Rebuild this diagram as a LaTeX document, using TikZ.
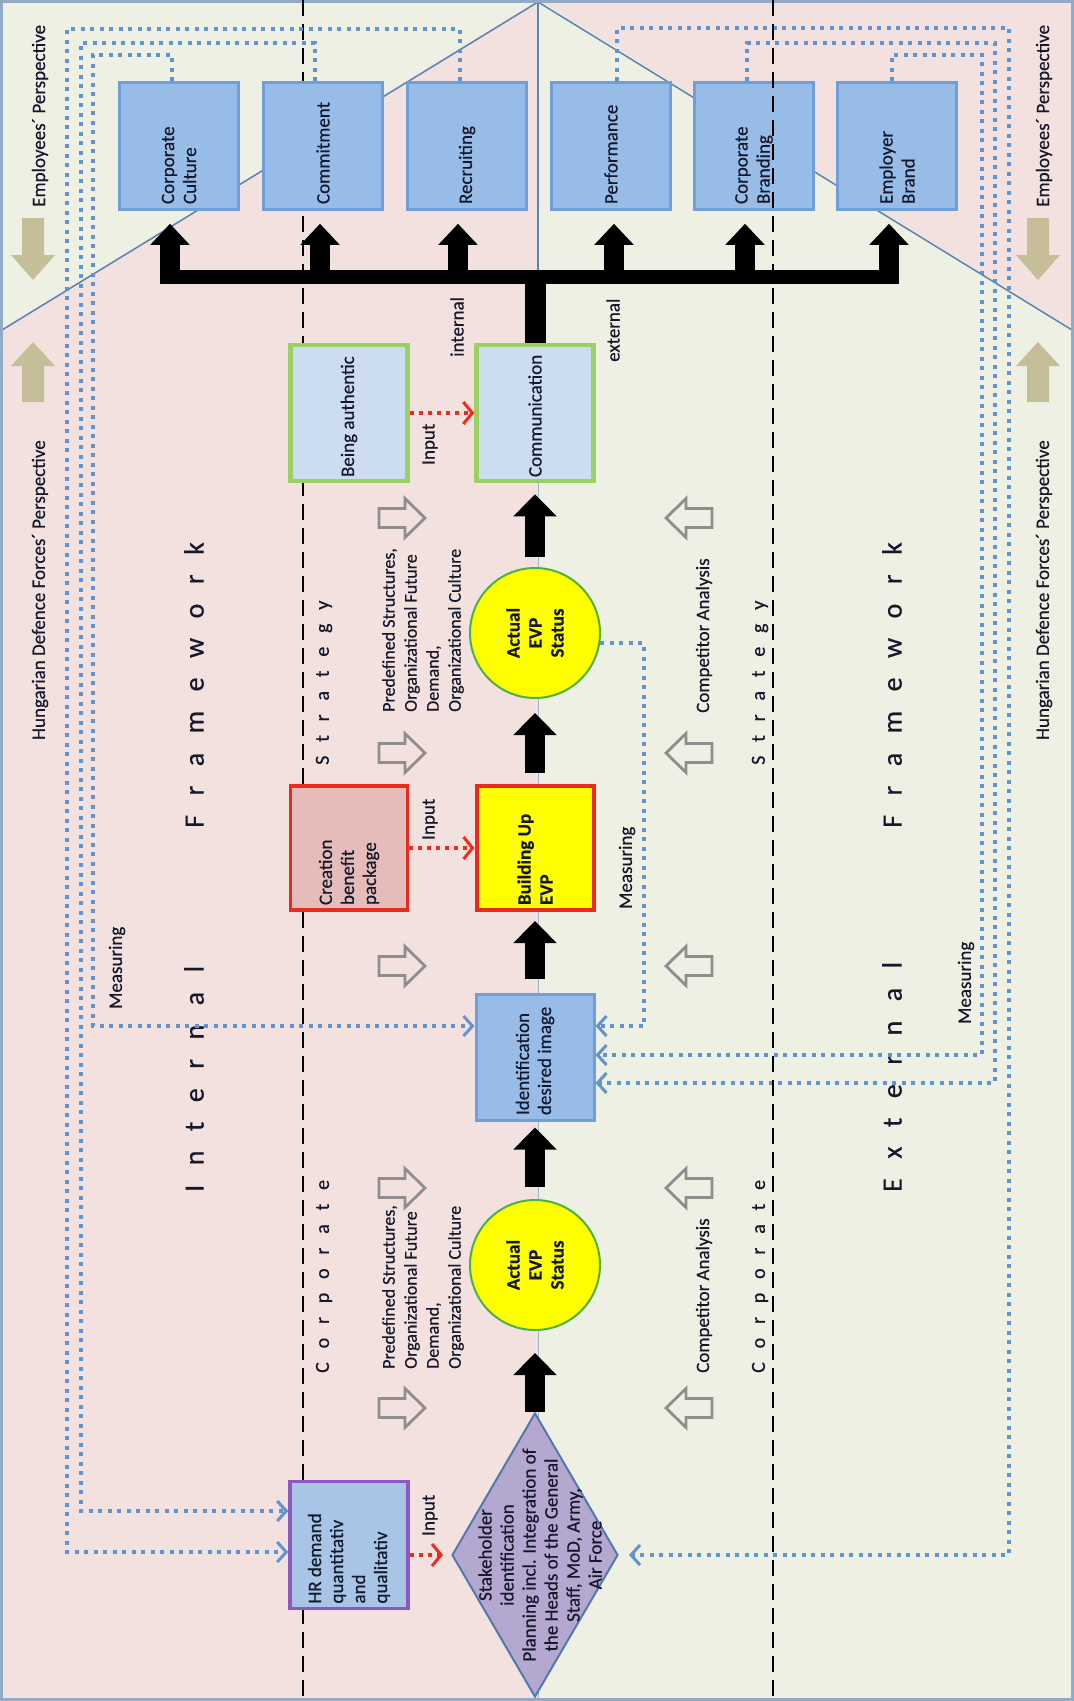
\documentclass[tikz,border=0pt]{standalone}
\usepackage{fontspec}
\setmainfont{Carlito}[FakeBold=0.45]
\usetikzlibrary{arrows.meta,shapes.geometric}
\definecolor{pinkbg}{HTML}{F2E1DF}
\definecolor{greenbg}{HTML}{EEF0E3}
\definecolor{framec}{HTML}{93AAC6}
\definecolor{diagc}{HTML}{5B83B1}
\definecolor{boxblue}{HTML}{98BCE8}
\definecolor{boxblueb}{HTML}{6E9FD9}
\definecolor{lightblue}{HTML}{CCDCF1}
\definecolor{greenb}{HTML}{9BD065}
\definecolor{redb}{HTML}{EC2A1C}
\definecolor{yel}{HTML}{FFFF00}
\definecolor{pinkbox}{HTML}{E6BCBA}
\definecolor{hrblue}{HTML}{A8C5E8}
\definecolor{purpleb}{HTML}{8A58BF}
\definecolor{dialav}{HTML}{B4A8D1}
\definecolor{diab}{HTML}{5279AB}
\definecolor{circb}{HTML}{4DB044}
\definecolor{dotblue}{HTML}{6193CF}
\definecolor{dotred}{HTML}{EE2B1E}
\definecolor{grayarr}{HTML}{8E8E8E}
\definecolor{tanc}{HTML}{C5BE98}
\definecolor{txt}{HTML}{15182B}
\newcommand{\vtl}[2]{\rotatebox{90}{\begin{minipage}{#1}\raggedright #2\end{minipage}}}
\newcommand{\vtc}[2]{\rotatebox{90}{\begin{minipage}{#1}\centering #2\end{minipage}}}
\newlength{\lsgap}
\def\LSb#1{\ifx#1\relax\else#1\hspace{\lsgap}\expandafter\LSb\fi}
\newcommand{\spaced}[2]{\setlength{\lsgap}{#1}\LSb#2\relax}
\begin{document}
\begin{tikzpicture}[x=1pt,y=-1pt,
  every node/.style={font=\fontsize{19}{22}\selectfont, text=txt},
  topbox/.style={draw=boxblueb, fill=boxblue, line width=2.5pt, minimum width=119pt, minimum height=127pt, inner sep=0pt},
  gbox/.style={draw=greenb, fill=lightblue, line width=4.5pt, minimum width=117pt, minimum height=136pt, inner sep=0pt},
  ybox/.style={draw=redb, fill=yel, line width=4pt, minimum width=117pt, minimum height=124pt, inner sep=0pt},
  cbbox/.style={draw=redb, fill=pinkbox, line width=3.5pt, minimum width=117pt, minimum height=124pt, inner sep=0pt},
  idbox/.style={draw=boxblueb, fill=boxblue, line width=3pt, minimum width=118pt, minimum height=126pt, inner sep=0pt},
  hrbox/.style={draw=purpleb, fill=hrblue, line width=3.5pt, minimum width=118pt, minimum height=127pt, inner sep=0pt},
  evp/.style={circle, draw=circb, fill=yel, line width=2pt, minimum size=130pt, inner sep=0pt},
  dia/.style={diamond, draw=diab, fill=dialav, line width=2pt, minimum width=166pt, minimum height=284pt, inner sep=0pt},
  lab/.style={rotate=90, anchor=west, inner sep=0pt},
  dashline/.style={black, line width=1.8pt, dash pattern=on 16pt off 8pt},
  bdot/.style={dotblue, line width=4pt, dash pattern=on 4pt off 5.5pt, -{Straight Barb[length=9pt,width=20pt,line width=3pt]}},
  rdot/.style={dotred, line width=4pt, dash pattern=on 4pt off 5pt, -{Straight Barb[length=9pt,width=22pt,line width=3pt]}},
  fat/.style={black, line width=20pt, -{Triangle[length=22pt,width=42pt]}},
  fatup/.style={black, line width=20pt, -{Triangle[length=21pt,width=38pt]}},
  garr/.style={draw=grayarr, line width=2.8pt, line join=miter},
  tanarrow/.style={fill=tanc},
  hollowarrow/.pic={\draw[garr] (-23,-9.5) -- (3,-9.5) -- (3,-19.5) -- (23,0) -- (3,19.5) -- (3,9.5) -- (-23,9.5) -- cycle;}
]
\useasboundingbox (0,0) rectangle (1074,1701);
% background
\fill[pinkbg] (0,0) rectangle (538,1701);
\fill[greenbg] (538,0) rectangle (1074,1701);
\fill[greenbg] (0,0) -- (538,0) -- (0,330) -- cycle;
\fill[pinkbg] (538,0) -- (1074,0) -- (1074,330) -- cycle;
\draw[diagc, line width=1.5pt] (2,330) -- (538,2) -- (1072,330);
\draw[diagc, line width=1.3pt] (538,0) -- (538,330);
\draw[diagc!60, line width=1pt] (538,330) -- (538,1701);
\draw[framec, line width=3pt] (1.5,1.5) rectangle (1072.5,1699.5);
% left dashed line
\draw[dashline] (303,0) -- (303,1701);
% tan arrows
\fill[tanarrow] (22,218) -- (44,218) -- (44,255) -- (55,255) -- (33,280) -- (11,255) -- (22,255) -- cycle;
\fill[tanarrow] (22,402) -- (44,402) -- (44,366) -- (55,366) -- (33,342) -- (11,366) -- (22,366) -- cycle;
\fill[tanarrow] (1027,218) -- (1049,218) -- (1049,255) -- (1060,255) -- (1038,280) -- (1016,255) -- (1027,255) -- cycle;
\fill[tanarrow] (1027,402) -- (1049,402) -- (1049,366) -- (1060,366) -- (1038,342) -- (1016,366) -- (1027,366) -- cycle;
% perspective labels
\node[lab] (ep1) at (40,207) {Employees´ Perspective};
\node[lab] (ep2) at (1044,207) {Employees´ Perspective};
\node[lab] (hd1) at (40,740) {Hungarian Defence Forces´ Perspective};
\node[lab] (hd2) at (1044,740) {Hungarian Defence Forces´ Perspective};
% top boxes
\node[topbox] (cc) at (179,146) {\vtl{116pt}{Corporate\\Culture}};
\node[topbox] (cm) at (323,146) {\vtl{116pt}{Commitment}};
\node[topbox] (rc) at (467,146) {\vtl{116pt}{Recruiting}};
\node[topbox] (pf) at (611,146) {\vtl{116pt}{Performance}};
\node[topbox] (cbr) at (754,146) {\vtl{116pt}{Corporate\\Branding}};
\node[topbox] (eb) at (897,146) {\vtl{116pt}{Employer\\Brand}};
% central column
\node[gbox] (comm) at (535,413) {\vtl{128pt}{Communication}};
\node[gbox] (ba) at (349,413) {\vtl{128pt}{Being authentic}};
\node[evp] (c2) at (535,633) {\vtc{60pt}{\bfseries Actual\\EVP\\Status}};
\node[ybox] (bu) at (535,848) {\vtl{114pt}{\bfseries Building Up\\EVP}};
\node[cbbox] (cb) at (349,848) {\vtl{114pt}{Creation\\benefit\\package}};
\node[idbox] (id) at (535,1057) {\vtl{116pt}{Identification\\desired image}};
\node[evp] (c1) at (535,1265) {\vtc{60pt}{\bfseries Actual\\EVP\\Status}};
\node[hrbox] (hr) at (349,1545) {\vtl{117pt}{HR demand\\quantitativ\\and\\qualitativ}};
\node[dia] (dia) at (535,1555) {};
\node[inner sep=0pt] (diat) at ([xshift=5pt]dia.center) {\vtc{240pt}{Stakeholder\\identification\\Planning incl. Integration of\\the Heads of the General\\Staff, MoD, Army,\\Air Force}};
% hollow grey arrows
\foreach \yy in {518,753,966,1188,1408} {
  \pic at (402,\yy) {hollowarrow};
  \pic[xscale=-1] at (689,\yy) {hollowarrow};
}
% text labels
\node[lab, align=left, font=\fontsize{18}{22}\selectfont] (pd1) at (423,712) {Predefined Structures,\\Organizational Future\\Demand,\\Organizational Culture};
\node[lab, align=left, font=\fontsize{18}{22}\selectfont] (pd2) at (423,1369) {Predefined Structures,\\Organizational Future\\Demand,\\Organizational Culture};
\node[lab] (ca1) at (704,713) {Competitor Analysis};
\node[lab] (ca2) at (704,1373) {Competitor Analysis};
\node[lab] (m1) at (117,1009) {Measuring};
\node[lab] (m2) at (627,909) {Measuring};
\node[lab] (m3) at (966,1024) {Measuring};
\node[lab] (in1) at (430,465) {Input};
\node[lab] (in2) at (430,840) {Input};
\node[lab] (in3) at (430,1536) {Input};
\node[lab] (intl) at (457,357) {internal};
\node[lab] (extl) at (613,362) {external};
% spaced titles
\node[lab, font=\fontsize{28}{30}\selectfont] (t1) at (194,1192) {\spaced{19.5pt}{Internal}};
\node[lab, font=\fontsize{28}{30}\selectfont] (t2) at (194,828) {\spaced{19.5pt}{Framework}};
\node[lab, font=\fontsize{28}{30}\selectfont] (t3) at (892,1192) {\spaced{19.5pt}{External}};
\node[lab, font=\fontsize{28}{30}\selectfont] (t4) at (892,828) {\spaced{19.5pt}{Framework}};
\node[lab, font=\fontsize{20}{22}\selectfont] (s1) at (324,1373) {\spaced{13.8pt}{Corporate}};
\node[lab, font=\fontsize{20}{22}\selectfont] (s2) at (324,765) {\spaced{13.8pt}{Strategy}};
\node[lab, font=\fontsize{20}{22}\selectfont] (s3) at (760,1373) {\spaced{13.8pt}{Corporate}};
\node[lab, font=\fontsize{20}{22}\selectfont] (s4) at (760,765) {\spaced{13.8pt}{Strategy}};
% blue dotted feedback lines
\draw[bdot] (172,0 |- cc.north) -- (172,55) -- (93,55) |- (id.west |- 0,1026);
\draw[bdot] (315,0 |- cm.north) -- (315,43) -- (81,43) |- (hr.west |- 0,1511);
\draw[bdot] (460,0 |- rc.north) -- (460,29) -- (67,29) |- (hr.west |- 0,1552);
\draw[bdot] (617,0 |- pf.north) -- (617,28) -- (1009,28) |- ([xshift=10pt]dia.east);
\draw[bdot] (747,0 |- cbr.north) -- (747,43) -- (995,43) |- (id.east |- 0,1083);
\draw[bdot] (892,0 |- eb.north) -- (892,55) -- (982,55) |- (id.east |- 0,1055);
\draw[bdot] (c2.-9) -- (644,0 |- c2.-9) |- (id.east |- 0,1026);
% red dotted input arrows
\draw[rdot] (ba.east) -- (comm.west);
\draw[rdot] (cb.east) -- (bu.west);
\draw[rdot] (hr.east |- dia.west) -- ([xshift=-8pt]dia.west);
% black flow arrows
\draw[fat, shorten >=22pt] (dia.north) -- (c1.south);
\draw[fat, shorten <=12pt, shorten >=6pt] (c1.north) -- (id.south);
\draw[fat, shorten <=14pt, shorten >=9pt] (id.north) -- (bu.south);
\draw[fat, shorten <=11pt, shorten >=14pt] (bu.north) -- (c2.south);
\draw[fat, shorten <=10pt, shorten >=11pt] (c2.north) -- (comm.south);
% fork
\coordinate (fk) at (535,270);
\coordinate (bl) at (160,277);
\coordinate (br) at (899,277);
\draw[black, line width=21pt] (comm.north) -- (fk);
\draw[black, line width=14pt] (bl) -- (br);
\coordinate (a1) at (170,280);
\coordinate (a2) at (320,280);
\coordinate (a3) at (458,280);
\coordinate (a4) at (614,280);
\coordinate (a5) at (745,280);
\coordinate (a6) at (889,280);
\draw[fatup, shorten >=13pt] (a1) -- (a1 |- cc.south);
\draw[fatup, shorten >=13pt] (a2) -- (a2 |- cm.south);
\draw[fatup, shorten >=13pt] (a3) -- (a3 |- rc.south);
\draw[fatup, shorten >=13pt] (a4) -- (a4 |- pf.south);
\draw[fatup, shorten >=13pt] (a5) -- (a5 |- cbr.south);
\draw[fatup, shorten >=13pt] (a6) -- (a6 |- eb.south);
% right dashed line (drawn on top)
\draw[dashline] (773,0) -- (773,1701);
\end{tikzpicture}
\end{document}
